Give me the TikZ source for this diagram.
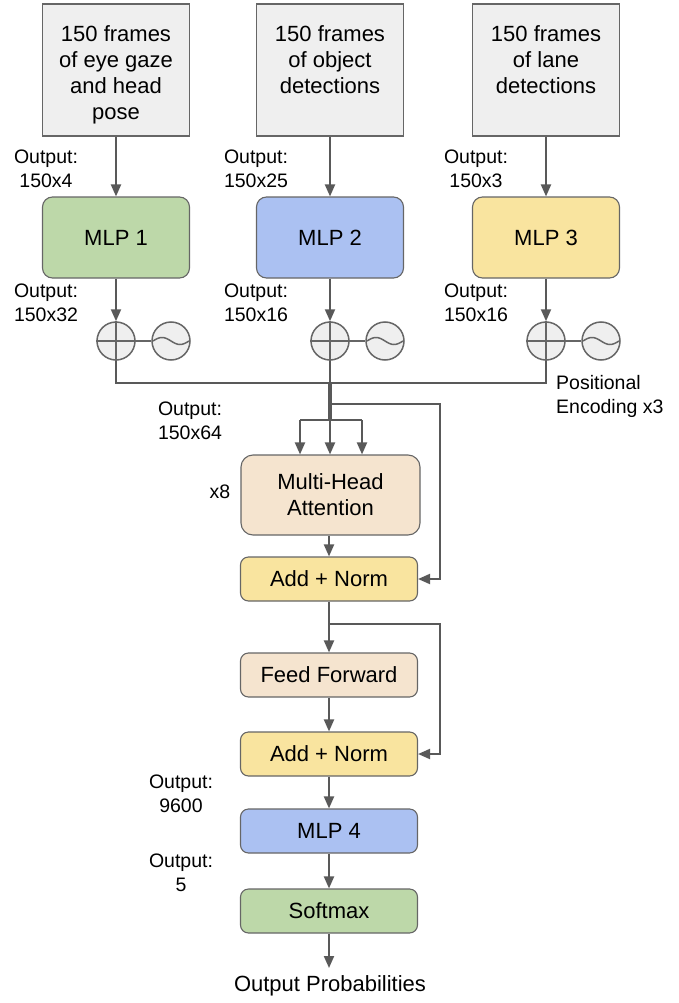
\documentclass[tikz,border=0pt]{standalone}
\usepackage{fontspec}
\setmainfont{Liberation Sans}
\usetikzlibrary{arrows.meta}
\definecolor{edge}{HTML}{666666}
\definecolor{arr}{HTML}{595959}
\definecolor{grayf}{HTML}{EFEFEF}
\definecolor{greenf}{HTML}{BDD8A9}
\definecolor{bluef}{HTML}{ABC1F2}
\definecolor{yellowf}{HTML}{F9E49F}
\definecolor{peachf}{HTML}{F5E4CF}
\begin{document}
\begin{tikzpicture}[x=1pt,y=-1pt,
  box/.style={draw=edge, line width=1.1pt, align=center, font=\fontsize{22}{26}\selectfont, inner sep=0pt},
  inbox/.style={box, fill=grayf, minimum width=147pt, minimum height=132pt},
  intext/.style={align=center, font=\fontsize{22}{26}\selectfont, inner sep=0pt, anchor=north},
  mlp/.style={box, rounded corners=10pt, minimum width=147pt, minimum height=81pt},
  blk/.style={box, rounded corners=8pt, minimum width=177pt, minimum height=44pt},
  lbl/.style={align=center, font=\fontsize{19.5}{24}\selectfont, inner sep=0pt},
  conn/.style={draw=arr, line width=2pt},
  arrow/.style={conn, -{Triangle[length=12pt,width=10pt]}},
  pe/.style={circle, draw=edge, fill=grayf, line width=1.5pt, minimum size=38pt, inner sep=0pt},
  thin/.style={draw=edge, line width=1.5pt}
]
\useasboundingbox (0,0) rectangle (678,1003);

% inputs
\node[inbox] (in1) at (116,70) {};
\node[inbox] (in2) at (330,70) {};
\node[inbox] (in3) at (546,70) {};
\node[intext] (t1) at (116,25) {150 frames\\of eye gaze\\and head\\pose};
\node[intext] (t2) at (330,25) {150 frames\\of object\\detections};
\node[intext] (t3) at (546,25) {150 frames\\of lane\\detections};

% MLPs
\node[mlp, fill=greenf] (m1) at (116,237.5) {MLP 1};
\node[mlp, fill=bluef] (m2) at (330,237.5) {MLP 2};
\node[mlp, fill=yellowf] (m3) at (546,237.5) {MLP 3};

% positional encodings
\foreach \i/\x in {1/116,2/330,3/546}{
  \node[pe] (p\i) at (\x,341) {};
  \node[pe] (w\i) at (\x+55,341) {};
  \draw[thin] (p\i.north) -- (p\i.south) (p\i.west) -- (p\i.east);
  \draw[thin] (p\i.east) -- (w\i.west);
  \draw[thin, shift={(w\i.center)}] plot[domain=-18:18, samples=40, smooth] (\x, {3.5*sin(\x*10)});
}

% labels
\node[lbl] (l1) at (46,169) {Output:\\150x4};
\node[lbl] (l2) at (256,169) {Output:\\150x25};
\node[lbl] (l3) at (476,169) {Output:\\150x3};
\node[lbl] (l4) at (46,303) {Output:\\150x32};
\node[lbl] (l5) at (256,303) {Output:\\150x16};
\node[lbl] (l6) at (476,303) {Output:\\150x16};
\node[lbl, align=left, anchor=west] (pel) at (556,396) {Positional\\Encoding x3};
\node[lbl] (l7) at (190,421) {Output:\\150x64};

% transformer
\node[box, fill=peachf, rounded corners=12pt, minimum width=179pt, minimum height=80pt] (mha) at (330.5,495) {Multi-Head\\Attention};
\node[lbl] (x8) at (220,492) {x8};
\node[blk, fill=yellowf] (an1) at (329,579) {Add + Norm};
\node[blk, fill=peachf] (ff) at (329,675) {Feed Forward};
\node[blk, fill=yellowf] (an2) at (329,754) {Add + Norm};
\node[blk, fill=bluef] (mlp4) at (329,831) {MLP 4};
\node[blk, fill=greenf] (soft) at (329,911) {Softmax};
\node[lbl] (l8) at (181,794) {Output:\\9600};
\node[lbl] (l9) at (181,873) {Output:\\5};
\node[box, draw=none] (outp) at (330,986) {Output Probabilities};

% connectors
\foreach \i in {1,2,3}{
  \draw[arrow] (in\i.south) -- (m\i.north);
  \draw[arrow] (m\i.south) -- (p\i.north);
}
\coordinate (bus) at (330,383);
\draw[conn] (p1.south) -- (116,383) -| (p3.south);
\coordinate (split) at (330,420);
\draw[conn] (p2.south) -- (bus);
\draw[conn, line width=4pt] (bus) -- (split);
\coordinate (sl) at (300,420);
\coordinate (sr) at (362,420);
\draw[conn] (sl) -- (sr);
\draw[arrow] (sl) -- (sl |- mha.north);
\draw[arrow] (split) -- (split |- mha.north);
\draw[arrow] (sr) -- (sr |- mha.north);
\coordinate (r1) at (330,404);
\draw[arrow] (r1) -- (440,404) |- (an1.east);

\draw[arrow] (mha.south -| 329,0) -- (an1.north);
\draw[arrow] (an1.south) -- (ff.north);
\coordinate (r2) at (329,624);
\draw[arrow] (r2) -- (440,624) |- (an2.east);
\draw[arrow] (ff.south) -- (an2.north);
\draw[arrow] (an2.south) -- (mlp4.north);
\draw[arrow] (mlp4.south) -- (soft.north);
\coordinate (oe) at (329,968);
\draw[arrow] (soft.south) -- (oe);
\end{tikzpicture}
\end{document}
